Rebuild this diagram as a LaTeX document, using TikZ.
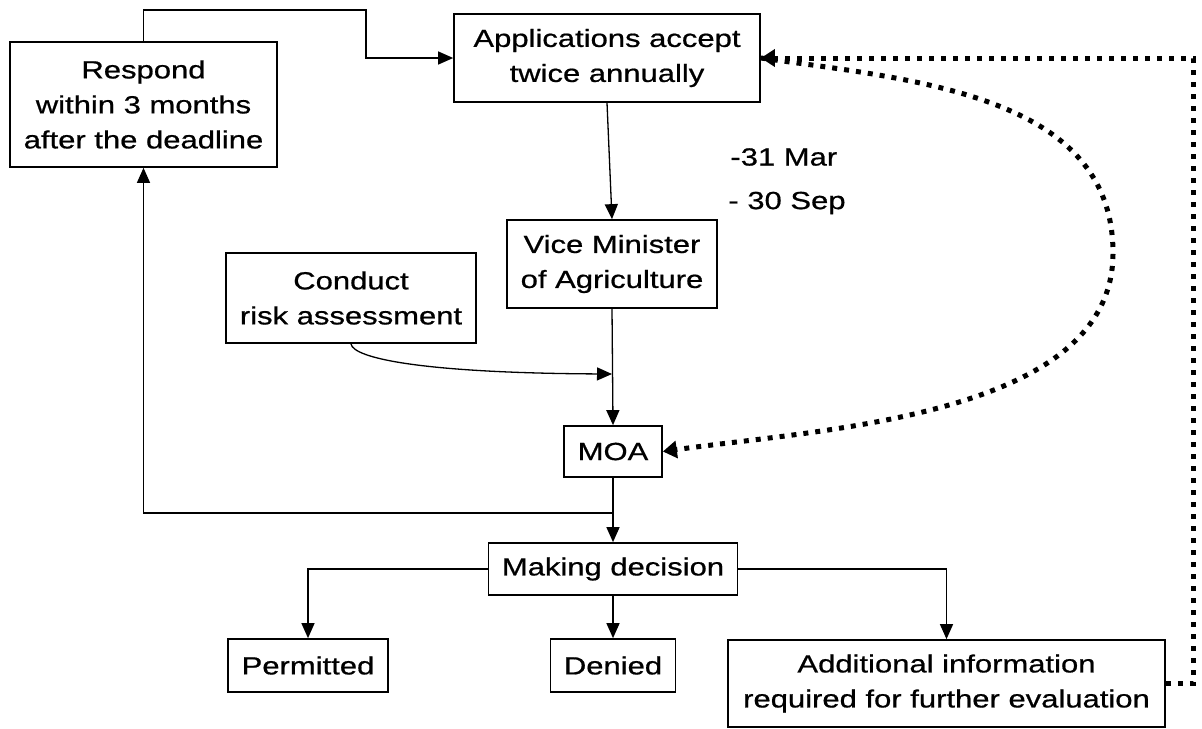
\documentclass[tikz,border=0pt]{standalone}
\usepackage{fontspec}
\setmainfont{Liberation Sans}[FakeStretch=1.25,FakeBold=0.7]
\usetikzlibrary{arrows.meta,calc}
\begin{document}
\begin{tikzpicture}[x=0.5pt,y=-0.5pt,
  box/.style={draw,line width=0.85pt,inner sep=0pt,align=center,
    font=\fontsize{12.4pt}{17.5pt}\selectfont},
  note/.style={inner sep=0pt,anchor=west,font=\fontsize{12.4pt}{17.5pt}\selectfont},
  flow/.style={line width=0.65pt,-{Triangle[length=7.5pt,width=6.5pt]}},
  dots/.style={line width=2.5pt,line cap=butt,dash pattern=on 2.5pt off 3.5pt},
  dotflow/.style={dots,-{Triangle[length=7pt,width=8.5pt]}}]
\useasboundingbox (0,0) rectangle (1202,728);

% boxes
\node[box,minimum width=133.5pt,minimum height=62.5pt] (resp) at (143.5,104.5)
  {Respond\\within 3 months\\after the deadline};
\node[box,minimum width=153pt,minimum height=44pt] (app) at (607,58)
  {Applications accept\\twice annually};
\node[box,minimum width=105pt,minimum height=44pt] (vice) at (612,264)
  {Vice Minister\\of Agriculture};
\node[box,minimum width=125pt,minimum height=45pt] (cond) at (351,298)
  {Conduct\\risk assessment};
\node[box,minimum width=49pt,minimum height=25.5pt] (moa) at (613,451.5) {MOA};
\node[box,minimum width=124.5pt,minimum height=26pt] (dec) at (613,569) {Making decision};
\node[box,minimum width=80pt,minimum height=26.5pt] (perm) at (308,665.5) {Permitted};
\node[box,minimum width=62.5pt,minimum height=26.5pt] (den) at (613,665.5) {Denied};
\node[box,minimum width=218.5pt,minimum height=43.5pt] (add) at (946.5,683.5)
  {Additional information\\required for further evaluation};

% deadlines
\node[note] (mar) at (730,157) {-31 Mar};
\node[note] (sep) at (728,203) {- 30 Sep};

% helper points
\coordinate (top) at (366,10);
\coordinate (join) at (613,513);
\coordinate (feed) at (612,374);
\coordinate (bend) at (1113,253);
\coordinate (edge) at (1193,58);

% solid connectors
\draw[flow] (resp.north) |- (top) |- (app.west);
\draw[flow] (app.south) -- (vice.north);
\draw[flow] (vice.south) -- (moa.north);
\draw[flow] (cond.south) .. controls (353,358) and (420,373) .. (feed);
\draw[flow] (moa.south) -- (dec.north);
\draw[flow] (join) -| (resp.south);
\draw[flow] (dec.west) -| (perm.north);
\draw[flow] (dec.south) -- (den.north);
\draw[flow] (dec.east) -| (add.north);

% dotted feedback loops
\draw[dotflow] (app.east) to[out=-8,in=90] (bend) to[out=-90,in=8,looseness=0.85] (moa.east);
\draw[dotflow,line join=miter] (add.east) -| (edge) -- (app.east);
\end{tikzpicture}
\end{document}
